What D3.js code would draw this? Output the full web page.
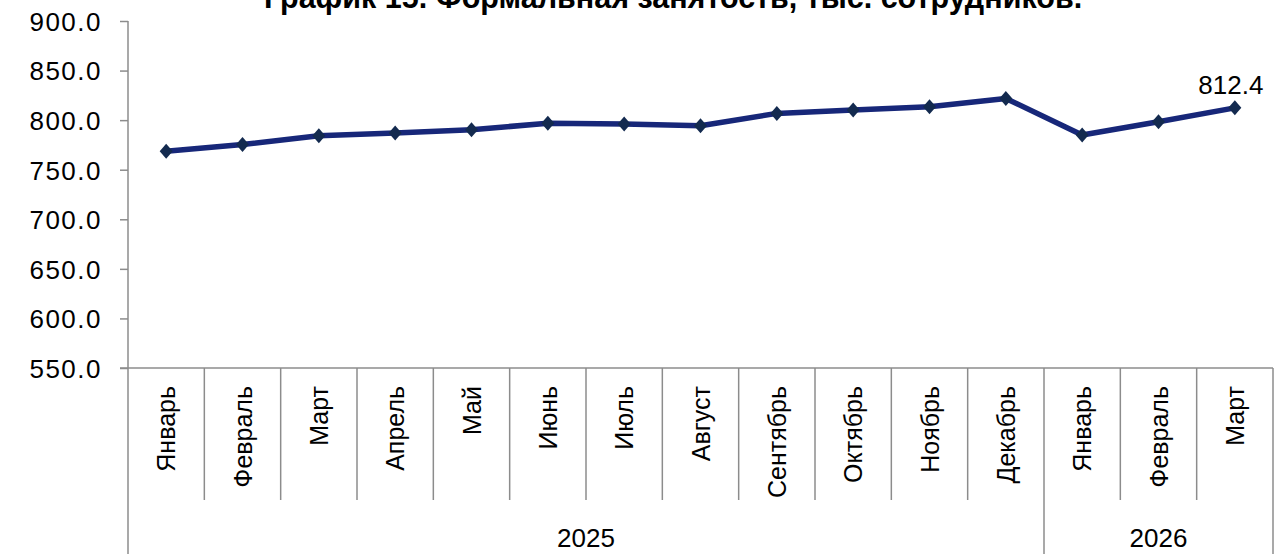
<!DOCTYPE html>
<html><head><meta charset="utf-8">
<script src="https://cdn.jsdelivr.net/npm/d3@7/dist/d3.min.js"></script>
<style>html,body{margin:0;padding:0;background:#fff;}svg{display:block;}</style>
</head><body>
<svg id="chart" width="1276" height="554"></svg>
<script>
const title = "График 15. Формальная занятость, тыс. сотрудников.";
const months = ["Январь","Февраль","Март","Апрель","Май","Июнь","Июль","Август","Сентябрь","Октябрь","Ноябрь","Декабрь","Январь","Февраль","Март"];
const years = ["2025","2025","2025","2025","2025","2025","2025","2025","2025","2025","2025","2025","2026","2026","2026"];
const values = [768.6, 775.4, 784.2, 787.1, 790.3, 796.9, 796.0, 794.3, 806.8, 810.2, 813.6, 821.9, 785.1, 798.3, 812.4];
const yTicks = [550, 600, 650, 700, 750, 800, 850, 900];

const svg = d3.select("#chart");
const mLeft = 128, mRight = 1273, mTop = 21, mBottom = 368;
const ids = months.map((m, i) => i);
const x = d3.scaleBand().domain(ids).range([mLeft, mRight]).paddingInner(0).paddingOuter(0);
const y = d3.scaleLinear().domain([550, 900]).range([mBottom, mTop]);
const axisColor = "#8c8c8c";
const font = "'Liberation Sans', Arial, sans-serif";

// title (cut off at top, as in the reference)
svg.append("text").attr("x", 673).attr("y", 8).attr("text-anchor", "middle")
  .attr("font-family", font).attr("font-weight", "bold").attr("font-size", 30.5)
  .attr("fill", "#000").text(title);

// y axis
const yAxis = d3.axisLeft(y).tickValues(yTicks).tickSize(8).tickFormat(d3.format(".1f"));
const gy = svg.append("g").attr("transform", `translate(${mLeft},0)`).call(yAxis);
gy.select(".domain").remove();
gy.selectAll(".tick line").attr("stroke", axisColor).attr("stroke-width", 1.5);
gy.selectAll(".tick text").attr("font-family", font).attr("font-size", 26)
  .attr("letter-spacing", 1.5).attr("fill", "#000").attr("x", -26).attr("dy", "0.36em");
svg.append("line").attr("x1", mLeft).attr("x2", mLeft).attr("y1", mTop).attr("y2", 554)
  .attr("stroke", axisColor).attr("stroke-width", 1.5);

// x axis baseline
svg.append("line").attr("x1", mLeft - 8).attr("x2", mRight).attr("y1", mBottom).attr("y2", mBottom)
  .attr("stroke", axisColor).attr("stroke-width", 1.5);

// month separators and labels
const gx = svg.append("g");
ids.forEach(i => {
  const xr = x(i) + x.bandwidth();
  const isYearEnd = (i === ids.length - 1) || years[i] !== years[i + 1];
  gx.append("line").attr("x1", xr).attr("x2", xr).attr("y1", mBottom)
    .attr("y2", isYearEnd ? 554 : 500).attr("stroke", axisColor).attr("stroke-width", 1.5);
  const cx = x(i) + x.bandwidth() / 2;
  gx.append("text").attr("transform", `translate(${cx},386) rotate(-90)`)
    .attr("text-anchor", "end").attr("dy", "0.36em")
    .attr("font-family", font).attr("font-size", 25).attr("fill", "#000").text(months[i]);
});

// year labels
const yearGroups = d3.groups(ids, i => years[i]);
yearGroups.forEach(([yr, idx]) => {
  const x0 = x(idx[0]), x1 = x(idx[idx.length - 1]) + x.bandwidth();
  svg.append("text").attr("x", (x0 + x1) / 2).attr("y", 547).attr("text-anchor", "middle")
    .attr("font-family", font).attr("font-size", 26).attr("fill", "#000").text(yr);
});

// line
const cxOf = i => x(i) + x.bandwidth() / 2;
const line = d3.line().x((d, i) => cxOf(i)).y(d => y(d));
svg.append("path").datum(values).attr("d", line).attr("fill", "none")
  .attr("stroke", "#172779").attr("stroke-width", 5.5).attr("stroke-linejoin", "round");

// markers
svg.append("g").selectAll("path").data(values).join("path")
  .attr("transform", (d, i) => `translate(${cxOf(i)},${y(d)})`)
  .attr("d", "M0,-7.5L6.5,0L0,7.5L-6.5,0Z").attr("fill", "#132a4f");

// data label on last point
const li = values.length - 1;
svg.append("text").attr("x", cxOf(li) - 4).attr("y", y(values[li]) - 14).attr("text-anchor", "middle")
  .attr("font-family", font).attr("font-size", 26).attr("fill", "#000")
  .text(d3.format(".1f")(values[li]));
</script>
</body></html>
